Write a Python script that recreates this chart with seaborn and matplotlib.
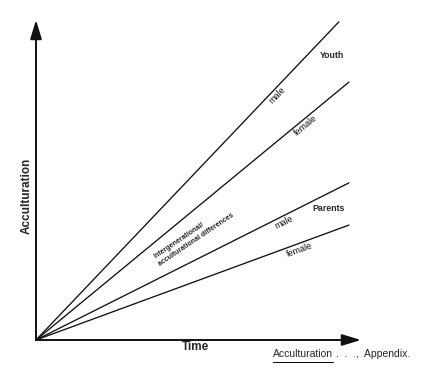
import numpy as np
import pandas as pd
import seaborn as sns
import matplotlib.pyplot as plt

# trajectories start at the origin and rise with time
groups = ["Youth male", "Youth female", "Parents male", "Parents female"]
end_time = [9.29, 9.6, 9.6, 9.6]
end_acc = [9.88, 8.01, 4.88, 3.57]
line_labels = ["male", "female", "male", "female"]
label_time = [7.27, 8.16, 7.52, 8.01]

sns.set_theme(style="white")
plt.rcParams["font.family"] = ["Liberation Sans", "DejaVu Sans"]

rows = []
for g, t, a in zip(groups, end_time, end_acc):
    rows.append({"group": g, "time": 0.0, "acc": 0.0})
    rows.append({"group": g, "time": t, "acc": a})
df = pd.DataFrame(rows)

fig = plt.figure(figsize=(4.27, 3.69), dpi=100)
ax = fig.add_axes([36 / 427, 29 / 369, 326 / 427, 322 / 369])
sns.lineplot(data=df, x="time", y="acc", hue="group", palette=["#111111"] * 4,
             linewidth=0.95, legend=False, ax=ax)
ax.set_xlim(0, 10)
ax.set_ylim(0, 10)
ax.set_xticks([])
ax.set_yticks([])
ax.set_xlabel("")
ax.set_ylabel("")
for s in ax.spines.values():
    s.set_visible(False)

arrow = dict(arrowstyle="-|>,head_length=1.15,head_width=0.35", color="#111111",
             lw=1.4, mutation_scale=10, shrinkA=0, shrinkB=0)
ax.annotate("", xy=(0, 9.94), xytext=(0, 0), arrowprops=arrow, annotation_clip=False)
ax.annotate("", xy=(9.97, 0), xytext=(0, 0), arrowprops=arrow, annotation_clip=False)

ax.text(-0.28, 4.47, "Acculturation", rotation=90, ha="center", va="center",
        fontsize=8.5, fontweight="bold", clip_on=False)
ax.text(4.88, -0.23, "Time", ha="center", va="center",
        fontsize=8.5, fontweight="bold", clip_on=False)

# labels along each line, rotated to match the drawn slope
for t, a, lab, lt in zip(end_time, end_acc, line_labels, label_time):
    y = lt * a / t
    p0 = ax.transData.transform((0, 0))
    p1 = ax.transData.transform((t, a))
    ang = np.degrees(np.arctan2(p1[1] - p0[1], p1[0] - p0[0]))
    d = 4.5
    off = (d * np.sin(np.radians(ang)), -d * np.cos(np.radians(ang)))
    ax.annotate(lab, xy=(lt, y), xytext=off, textcoords="offset points",
                rotation=ang, rotation_mode="anchor", ha="center", va="center",
                fontsize=6.5, color="#111111")

ax.text(9.08, 8.82, "Youth", ha="center", va="center", fontsize=6.3, fontweight="bold")
ax.text(8.96, 4.07, "Parents", ha="center", va="center", fontsize=6.3, fontweight="bold")
ax.text(4.85, 3.23, "Intergenerational/\nacculturational differences", rotation=34,
        rotation_mode="anchor", ha="center", va="center", multialignment="left",
        fontsize=5, fontweight="bold", linespacing=1.3)

# source note with underlined title
t1 = fig.text(273 / 427, 1 - 357 / 369, "Acculturation", fontsize=7.5, va="baseline")
fig.canvas.draw()
bb = t1.get_window_extent()
fig.add_artist(plt.Line2D([bb.x0 / 427, bb.x1 / 427], [(bb.y0 - 2.5) / 369] * 2,
                          color="black", lw=0.7))
fig.text(bb.x1 / 427, 1 - 357 / 369, " .  .  .,  Appendix.", fontsize=7.5, va="baseline")

fig.savefig("out.png", dpi=100, facecolor="white")
